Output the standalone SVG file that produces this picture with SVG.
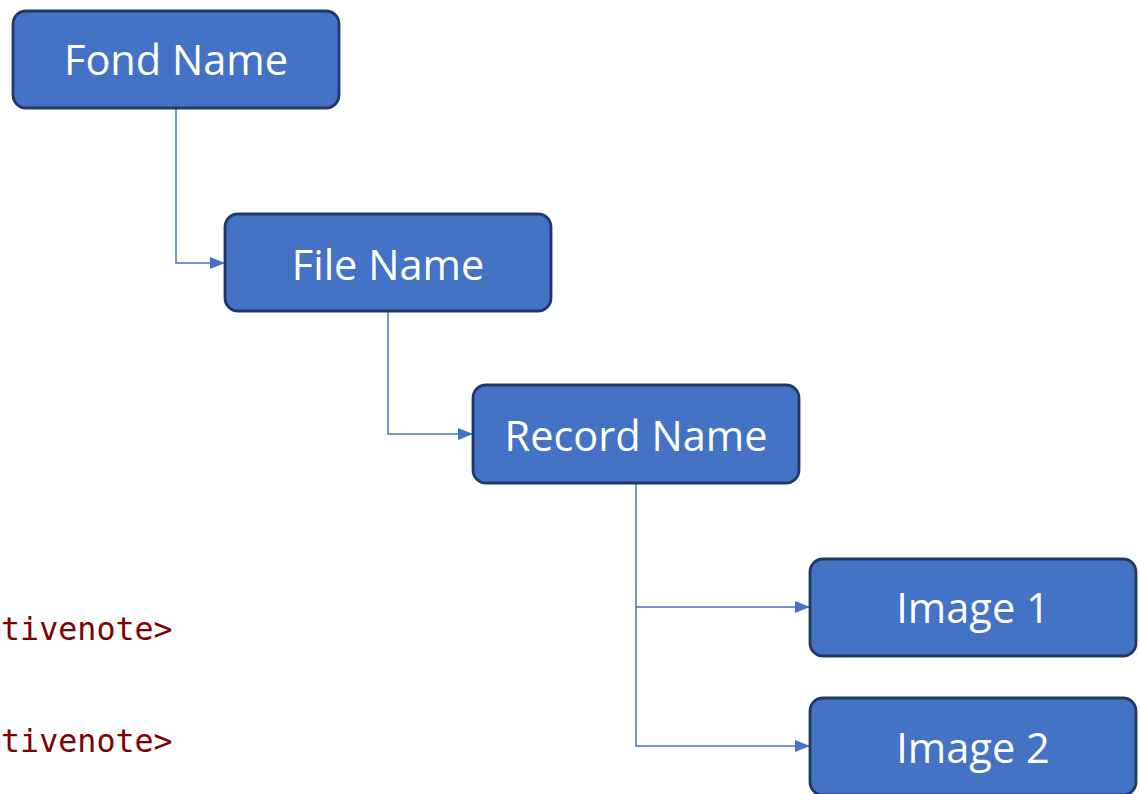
<svg xmlns="http://www.w3.org/2000/svg" width="1140" height="794" viewBox="0 0 1140 794">
<defs>
<style>
.box{fill:#4472C4;stroke:#1F3864;stroke-width:2.8}
.lbl{fill:#FFFFFF;font-family:"Open Sans","Noto Sans",sans-serif;font-size:41.5px;text-anchor:middle}
.con{fill:none;stroke:#4472C4;stroke-width:1.5}
.code{fill:#800000;font-family:"DejaVu Sans Mono","Liberation Mono",monospace;font-size:31.7px}
</style>
<marker id="arr" viewBox="0 0 15 12" refX="15" refY="6" markerWidth="15" markerHeight="12" markerUnits="userSpaceOnUse" orient="auto">
<path d="M0,0 L15,6 L0,12 Z" fill="#4472C4"/>
</marker>
</defs>
<rect width="1140" height="794" fill="#FFFFFF"/>
<text class="code" x="1" y="640">tivenote&gt;</text>
<text class="code" x="1" y="752">tivenote&gt;</text>
<g id="connectors">
<path class="con" d="M176,108 V263 H225" marker-end="url(#arr)"/>
<path class="con" d="M388,311 V434 H473" marker-end="url(#arr)"/>
<path class="con" d="M636,483 V607 H810" marker-end="url(#arr)"/>
<path class="con" d="M636,607 V746 H810" marker-end="url(#arr)"/>
</g>
<g id="fond"><rect class="box" x="13" y="11" width="326" height="97" rx="13"/><text class="lbl" x="176" y="75">Fond Name</text></g>
<g id="file"><rect class="box" x="225" y="214" width="326" height="97" rx="13"/><text class="lbl" x="388" y="280">File Name</text></g>
<g id="record"><rect class="box" x="473" y="385" width="326" height="98" rx="13"/><text class="lbl" x="636" y="451">Record Name</text></g>
<g id="image1"><rect class="box" x="810" y="559" width="326" height="97" rx="13"/><text class="lbl" x="973" y="623">Image 1</text></g>
<g id="image2"><rect class="box" x="810" y="698" width="326" height="97" rx="13"/><text class="lbl" x="973" y="763">Image 2</text></g>
</svg>
